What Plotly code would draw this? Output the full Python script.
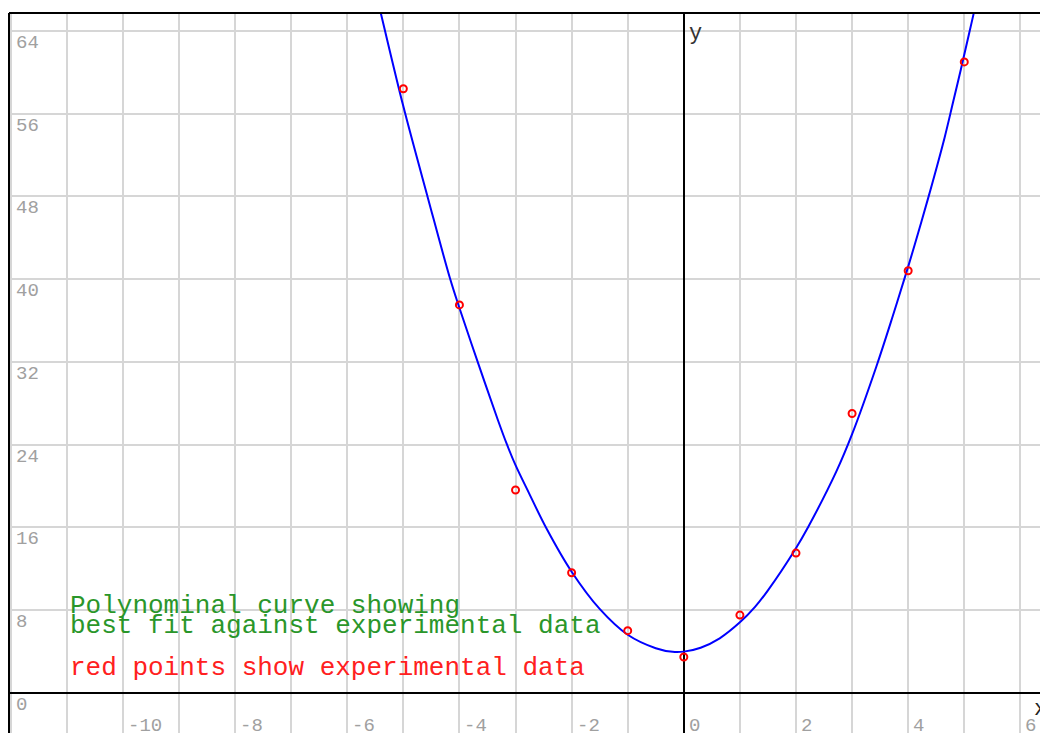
import plotly.graph_objects as go

# Experimental data (red points)
data_x = [-5, -4, -3, -2, -1, 0, 1, 2, 3, 4, 5]
data_y = [58.4, 37.5, 19.6, 11.6, 6.0, 3.45, 7.5, 13.5, 27.0, 40.8, 61.0]

# Best-fit curve
curve_x = [-5.5, -5.41, -5.0, -4.56, -4.17, -4.0, -3.65, -3.31, -3.16, -3.0, -2.76,
           -2.45, -2.0, -1.5, -1.0, -0.5, -0.2, 0.0, 0.3, 0.64, 1.0, 1.27, 1.5,
           1.98, 2.22, 2.72, 3.0, 3.43, 3.73, 4.0, 4.18, 4.36, 4.65, 4.8, 4.94,
           5.08, 5.16, 5.25]
curve_y = [67.9, 65.9, 56.7, 47.8, 40.1, 37.2, 31.6, 26.3, 24.1, 22.0, 19.3,
           15.9, 11.7, 8.1, 5.6, 4.3, 3.95, 3.97, 4.35, 5.26, 6.8, 8.3, 9.9,
           13.8, 16.05, 21.4, 25.0, 31.5, 36.5, 41.2, 44.5, 47.9, 53.7, 57.1, 60.3,
           63.6, 65.5, 67.7]

x_ticks = [-10, -8, -6, -4, -2, 0, 2, 4, 6]
x_tick_labels = ["-10", "-8", "-6", "-4", "-2", "0", "2", "4", "6"]
y_ticks = [0, 8, 16, 24, 32, 40, 48, 56, 64]
y_tick_labels = ["0", "8", "16", "24", "32", "40", "48", "56", "64"]

X_RANGE = [-12.03, 6.35]
Y_RANGE = [-3.9, 65.73]

MONO = "Liberation Mono, Courier New, monospace"
GRID = "#d6d6d6"
TICK_COL = "#a0a0a0"

fig = go.Figure()
fig.add_trace(go.Scatter(x=curve_x, y=curve_y, mode="lines",
                         line=dict(color="#0000ff", width=2, shape="spline", smoothing=1.0),
                         hoverinfo="skip", showlegend=False))
fig.add_trace(go.Scatter(x=data_x, y=data_y, mode="markers",
                         marker=dict(symbol="circle-open", size=7, color="#ff0000",
                                     line=dict(width=2, color="#ff0000")),
                         showlegend=False))

annotations = []
for v, t in zip(x_ticks, x_tick_labels):
    annotations.append(dict(x=v, y=-3.25, xref="x", yref="y", text=t, showarrow=False,
                            xanchor="left", yanchor="middle", xshift=3,
                            font=dict(family=MONO, size=19, color=TICK_COL)))
for v, t in zip(y_ticks, y_tick_labels):
    annotations.append(dict(x=0, y=v, xref="paper", yref="y", text=t, showarrow=False,
                            xanchor="left", yanchor="middle", xshift=5, yshift=-12,
                            font=dict(family=MONO, size=19, color=TICK_COL)))

annotations += [
    dict(x=0, y=64, xref="x", yref="y", text="y", showarrow=False,
         xanchor="left", yanchor="middle", xshift=3, yshift=-3,
         font=dict(family=MONO, size=22, color="#333333")),
    dict(x=6.2, y=-1.6, xref="x", yref="y", text="x", showarrow=False,
         xanchor="left", yanchor="middle",
         font=dict(family=MONO, size=22, color="#222222")),
    dict(x=-10.98, y=8.4, xref="x", yref="y", text="Polynominal curve showing",
         showarrow=False, xanchor="left", yanchor="middle",
         font=dict(family=MONO, size=26, color="#2a962a")),
    dict(x=-10.98, y=6.45, xref="x", yref="y", text="best fit against experimental data",
         showarrow=False, xanchor="left", yanchor="middle",
         font=dict(family=MONO, size=26, color="#2a962a")),
    dict(x=-10.98, y=2.4, xref="x", yref="y", text="red points show experimental data",
         showarrow=False, xanchor="left", yanchor="middle",
         font=dict(family=MONO, size=26, color="#ff2020")),
]

shapes = [
    dict(type="line", xref="paper", yref="paper", x0=0, x1=1, y0=1, y1=1,
         line=dict(color="black", width=2)),
    dict(type="line", xref="paper", yref="paper", x0=0, x1=0, y0=0, y1=1,
         line=dict(color="black", width=2)),
]

fig.update_layout(
    width=1040, height=733,
    margin=dict(l=9, r=0, t=13, b=0),
    paper_bgcolor="white", plot_bgcolor="white",
    annotations=annotations, shapes=shapes,
    xaxis=dict(range=X_RANGE, tick0=0, dtick=1, showgrid=True, gridcolor=GRID, gridwidth=2,
               zeroline=True, zerolinecolor="black", zerolinewidth=2,
               showticklabels=False, ticks="", showline=False, fixedrange=True),
    yaxis=dict(range=Y_RANGE, tick0=0, dtick=8, showgrid=True, gridcolor=GRID, gridwidth=2,
               zeroline=True, zerolinecolor="black", zerolinewidth=2,
               showticklabels=False, ticks="", showline=False, fixedrange=True),
)

fig.write_html("out.html",
               config={"displayModeBar": False},
               post_script="document.body.style.margin='0';document.body.style.overflow='hidden';")
